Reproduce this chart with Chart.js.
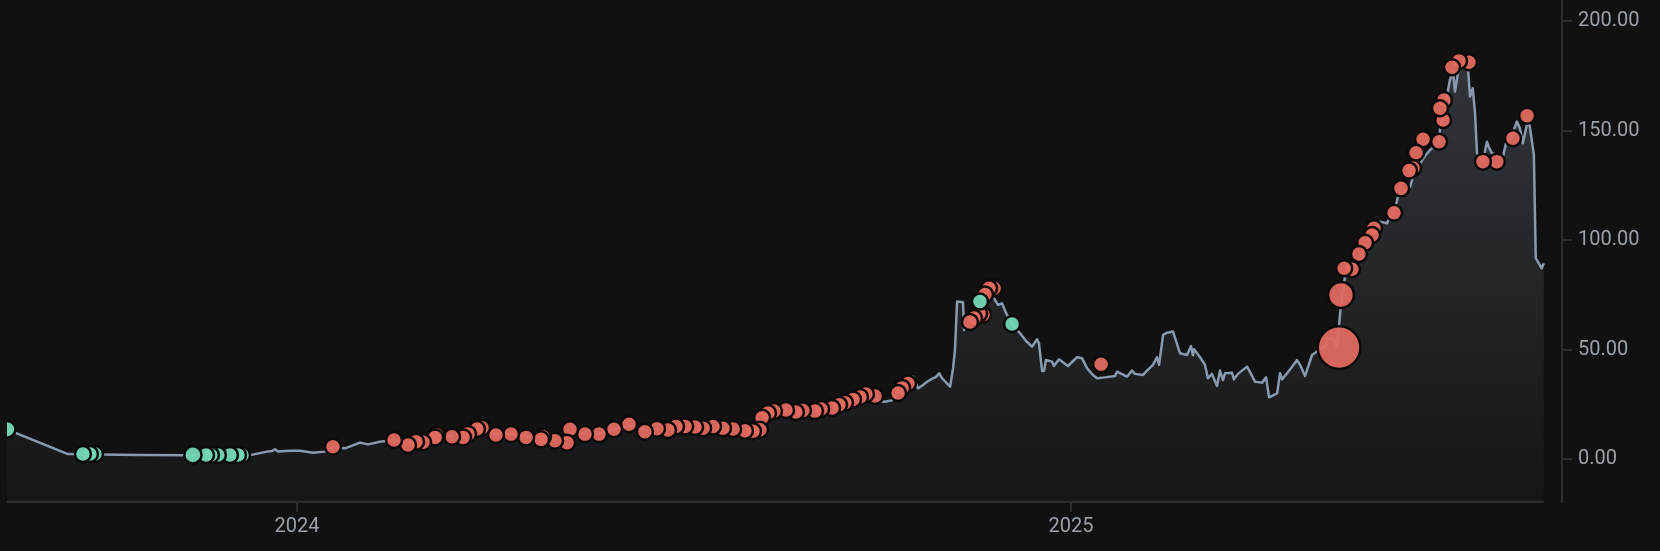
<!DOCTYPE html>
<html>
<head>
<meta charset="utf-8">
<script src="https://cdn.jsdelivr.net/npm/chart.js@4.4.1/dist/chart.umd.min.js"></script>
<style>
html,body{margin:0;padding:0;background:#111111;}
#wrap{width:1660px;height:551px;position:relative;}
</style>
</head>
<body>
<div id="wrap"><canvas id="c"></canvas></div>
<script>
// x values are days counted from 2024-01-01
const priceDay = [-137.1,-108.3,-93.1,-74.2,-52.0,-38.8,-23.6,-14.2,-11.8,-10.4,
-9.0,-3.3,1.4,7.6,13.2,17.0,22.7,29.8,33.6,39.2,
45.9,52.5,58.2,65.7,73.3,80.9,86.5,94.1,101.2,108.3,
115.4,122.0,127.7,130.0,136.2,143.3,149.9,157.0,164.5,171.6,
181.1,190.5,200.0,209.4,217.5,220.3,223.6,227.4,233.1,237.8,
243.5,248.2,253.0,257.7,262.4,267.1,271.9,275.7,278.0,281.3,
283.7,287.5,289.8,291.3,293.6,296.0,297.9,300.7,302.1,303.6,
305.0,308.8,310.2,311.1,312.1,314.9,315.4,318.2,320.6,322.5,
324.4,325.8,327.7,330.0,331.5,333.3,335.7,338.1,341.9,344.7,
347.5,349.9,350.8,352.3,353.2,354.1,357.0,357.9,360.3,364.5,
368.8,371.2,373.5,376.3,378.3,382.0,386.8,387.7,392.4,394.8,
396.2,400.0,401.9,404.7,406.6,407.6,409.5,411.4,414.2,417.5,
420.8,422.7,423.6,424.1,427.0,429.3,430.7,432.6,435.0,436.4,
437.8,438.8,442.1,443.0,444.9,449.2,453.0,456.3,458.2,459.6,
463.4,464.8,465.8,468.1,470.5,472.8,474.3,476.6,479.9,482.8,
486.1,487.5,489.9,491.8,493.2,494.1,496.0,498.8,502.6,505.5,
508.3,512.1,515.4,516.8,518.7,520.6,523.9,526.3,527.7,530.1,
532.9,535.7,539.5,540.4,542.8,545.1,546.6,547.5,548.9,551.3,
553.6,554.6,555.9,557.0,557.9,560.7,562.6,563.5,565.0,570.2,
571.6,574.0,576.8,578.2,579.6,582.0,582.9,584.8,585.7,588.5,
589.5];
const priceValue = [13.7,2.4,2.2,2.0,1.8,1.6,1.6,3.5,3.8,4.6,
3.6,3.9,3.9,3.0,3.5,5.5,5.0,7.6,6.8,8.0,
8.8,7.0,8.2,10.5,10.8,11.5,14.0,11.5,11.5,10.5,
9.6,9.0,9.5,12.5,11.5,11.8,13.5,15.5,13.5,14.0,
14.5,14.5,14.0,13.5,13.5,18.5,21.0,22.0,22.0,21.2,
22.0,22.5,23.2,25.0,27.0,28.7,28.5,26.5,26.3,27.0,
29.8,32.2,34.5,37.7,32.4,33.9,35.4,37.0,37.5,39.3,
37.0,33.2,41.6,50.0,72.0,71.7,59.0,62.6,65.0,67.0,
70.0,75.0,77.5,72.7,70.5,71.2,65.9,62.0,57.5,54.0,
51.4,54.8,53.0,40.3,40.3,45.3,44.6,42.6,45.7,42.6,
46.6,46.1,41.6,38.5,37.0,37.4,38.0,40.0,37.7,40.5,
39.0,38.5,40.5,43.1,46.6,43.1,56.8,57.8,58.3,48.4,
47.6,51.7,47.5,50.2,46.6,43.1,37.0,39.0,33.5,40.5,
36.2,39.3,39.5,36.5,39.0,42.3,35.4,35.0,37.4,28.3,
30.1,39.3,36.5,39.3,42.3,45.3,43.0,38.0,47.6,49.6,
51.5,55.4,55.0,51.0,66.7,75.0,86.0,87.0,92.0,98.0,
102.0,108.5,107.8,110.8,112.8,120.0,122.0,124.5,129.0,133.6,
138.0,141.2,144.3,150.4,161.0,173.2,177.0,167.9,176.3,180.8,
179.3,165.6,169.4,158.0,139.7,135.9,145.0,142.5,139.7,138.2,
144.3,147.0,154.2,151.0,144.3,155.0,151.9,139.0,91.8,87.2,
89.5];

const buyDay = [-137.1,-101.2,-97.9,-95.5,-49.2,-43.0,-40.7,-37.4,-31.7,-27.9,-26.0,322.9,338.1];
const buyValue = [13.7,2.4,2.4,2.4,2.0,2.0,2.0,2.0,2.0,2.0,2.0,72.0,61.8];
const buyQty = [1.1,1,1,1,1.15,1,1,1,1,1,1,1,1];

const sellDay = [17.0,45.9,52.5,56.3,59.6,65.3,66.2,73.3,78.5,80.9,
85.1,87.5,94.1,101.2,108.3,115.4,116.3,122.0,127.7,129.1,
136.2,142.8,149.9,157.0,164.5,170.2,175.4,179.2,183.5,188.2,
192.0,196.7,201.4,206.2,211.8,215.6,218.9,219.9,222.7,225.5,
231.2,235.9,239.2,244.9,247.8,253.0,256.3,259.1,262.9,266.2,
269.0,273.3,284.2,286.1,288.9,318.2,320.1,322.5,324.4,325.3,
327.2,329.6,380.2,492.7,493.6,495.1,498.8,502.1,505.0,508.3,
509.2,518.7,522.0,525.8,527.7,529.1,532.4,540.0,540.4,541.9,
542.3,546.1,549.4,554.1,560.7,567.3,574.9,581.6];
const sellValue = [5.7,8.8,6.5,8.0,7.8,10.0,11.1,10.3,10.0,11.5,
13.8,14.4,11.1,11.5,10.0,9.1,10.3,8.5,7.6,13.7,
11.5,11.5,13.7,16.0,12.6,14.0,13.4,15.0,15.0,14.7,
14.2,15.0,14.2,13.8,13.0,12.8,13.5,19.0,21.1,22.0,
22.5,21.6,22.3,22.0,23.0,23.4,24.9,25.8,27.3,28.4,
29.8,28.9,30.3,32.6,34.6,62.7,64.5,66.5,66.0,75.2,
78.1,78.1,43.4,51.0,75.0,87.2,86.8,93.7,98.9,102.4,
105.5,112.6,123.7,131.8,133.0,140.0,146.1,145.0,160.3,154.9,
164.0,179.0,181.9,181.3,135.9,135.9,146.6,156.9];
const sellQty = [1,1,1,1,1,1,1,1,1,1,
1,1,1,1,1,1,1,1,1,1,
1,1,1,1,1,1,1,1,1,1,
1,1,1,1,1,1,1,1,1,1,
1,1,1,1,1,1,1,1,1,1,
1,1,1,1,1,1,1,1,1,1,
1,1,1,7.1,2.6,1,1,1,1,1,
1,1,1,1,1,1,1,1,1,1,
1,1,1,1,1,1,1,1];

const yearTickDay = [0, 366];
const yearTickLabel = ['2024', '2025'];
const priceTicks = [0, 50, 100, 150, 200];

const BASE_R = 8;
const axisColor = '#2b2c2e';
const labelColor = '#9ba1a9';

function markerData(days, vals, qty) {
  const arr = days.map((d, i) => ({ x: d, y: vals[i], q: qty[i] }));
  return arr.reverse(); // earlier markers drawn on top
}

function noPad(s) {
  s.paddingLeft = 0; s.paddingRight = 0; s.paddingTop = 0; s.paddingBottom = 0;
}

Chart.defaults.font.family = 'Roboto';
Chart.defaults.font.size = 20;
Chart.defaults.color = labelColor;

const bottomLine = {
  id: 'bottomLine',
  beforeDatasetsDraw(chart) {
    const { ctx, chartArea, scales } = chart;
    const xEnd = scales.x.getPixelForValue(priceDay[priceDay.length - 1]);
    ctx.save();
    ctx.strokeStyle = axisColor;
    ctx.lineWidth = 2;
    ctx.beginPath();
    ctx.moveTo(chartArea.left, chartArea.bottom);
    ctx.lineTo(xEnd, chartArea.bottom);
    ctx.stroke();
    ctx.restore();
  }
};

new Chart(document.getElementById('c'), {
  type: 'line',
  data: {
    datasets: [
      {
        label: 'price',
        data: priceDay.map((d, i) => ({ x: d, y: priceValue[i] })),
        borderColor: 'rgb(138,154,174)',
        borderWidth: 2.5,
        pointRadius: 0,
        tension: 0,
        fill: 'start',
        borderJoinStyle: 'round',
        backgroundColor(context) {
          const { chart } = context;
          const { ctx, chartArea } = chart;
          if (!chartArea) return 'rgba(136,151,170,0.1)';
          const g = ctx.createLinearGradient(0, chartArea.top, 0, chartArea.bottom);
          g.addColorStop(0, 'rgba(136,151,170,0.30)');
          g.addColorStop(1, 'rgba(136,151,170,0.04)');
          return g;
        },
        order: 3
      },
      {
        type: 'scatter',
        label: 'sell',
        data: markerData(sellDay, sellValue, sellQty),
        backgroundColor: 'rgba(226,106,96,0.94)',
        borderColor: '#0c0a0a',
        borderWidth: 2.5,
        pointRadius: ctx => BASE_R * Math.sqrt(ctx.raw ? ctx.raw.q : 1),
        pointHoverRadius: ctx => BASE_R * Math.sqrt(ctx.raw ? ctx.raw.q : 1),
        order: 2
      },
      {
        type: 'scatter',
        label: 'buy',
        data: markerData(buyDay, buyValue, buyQty),
        backgroundColor: 'rgba(116,212,182,0.96)',
        borderColor: '#0a0c0b',
        borderWidth: 2.5,
        pointRadius: ctx => BASE_R * Math.sqrt(ctx.raw ? ctx.raw.q : 1),
        pointHoverRadius: ctx => BASE_R * Math.sqrt(ctx.raw ? ctx.raw.q : 1),
        order: 1
      }
    ]
  },
  options: {
    responsive: true,
    maintainAspectRatio: false,
    devicePixelRatio: 1,
    animation: false,
    layout: { autoPadding: false, padding: { left: 7, right: 0, top: 0, bottom: 0 } },
    plugins: { legend: { display: false }, tooltip: { enabled: false } },
    scales: {
      x: {
        type: 'linear',
        min: -137.1,
        max: 598.1,
        border: { display: false },
        grid: { drawOnChartArea: false, drawTicks: true, tickLength: 10, color: axisColor, lineWidth: 2 },
        ticks: {
          padding: 3,
          maxRotation: 0,
          color: labelColor,
          callback: (v) => { const i = yearTickDay.indexOf(v); return i >= 0 ? yearTickLabel[i] : ''; }
        },
        afterBuildTicks: (s) => { s.ticks = yearTickDay.map(v => ({ value: v })); },
        afterFit: (s) => { s.height = 49; noPad(s); }
      },
      y: {
        type: 'linear',
        position: 'right',
        min: -19.5,
        max: 209.7,
        border: { display: true, color: axisColor, width: 2 },
        grid: { drawOnChartArea: false, drawTicks: true, tickLength: 10, color: axisColor, lineWidth: 2 },
        ticks: {
          padding: 6,
          color: labelColor,
          callback: (v) => Number(v).toFixed(2)
        },
        afterBuildTicks: (s) => { s.ticks = priceTicks.map(v => ({ value: v })); },
        afterFit: (s) => { s.width = 98; noPad(s); }
      }
    }
  },
  plugins: [bottomLine]
});
</script>
</body>
</html>
